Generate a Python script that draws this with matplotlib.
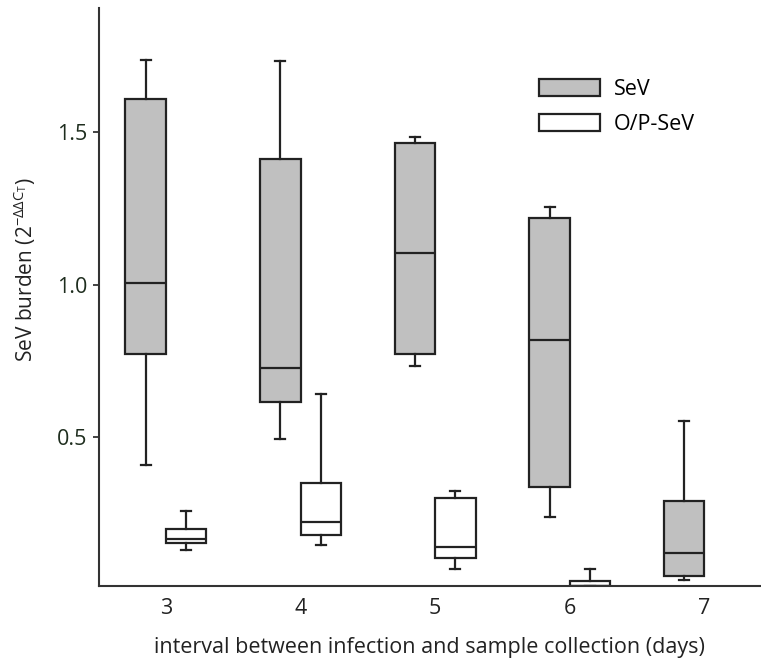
import matplotlib
matplotlib.use('Agg')
import matplotlib.pyplot as plt
from matplotlib.patches import Patch

plt.rcParams['font.family'] = ['Open Sans', 'DejaVu Sans']
plt.rcParams['mathtext.fontset'] = 'custom'
plt.rcParams['mathtext.rm'] = 'Open Sans'
plt.rcParams['mathtext.it'] = 'Open Sans'

# days after infection
days = ['3', '4', '5', '6', '7']

# SeV box stats
sev_whislo = [0.408, 0.494, 0.732, 0.240, 0.032]
sev_q1 = [0.772, 0.615, 0.773, 0.336, 0.045]
sev_med = [1.004, 0.727, 1.102, 0.818, 0.122]
sev_q3 = [1.609, 1.413, 1.463, 1.217, 0.290]
sev_whishi = [1.735, 1.732, 1.484, 1.255, 0.554]

# O/P-SeV box stats (no data on day 7)
op_days = ['3', '4', '5', '6']
op_whislo = [0.131, 0.146, 0.068, 0.013]
op_q1 = [0.153, 0.179, 0.104, 0.014]
op_med = [0.167, 0.224, 0.140, 0.014]
op_q3 = [0.199, 0.349, 0.302, 0.029]
op_whishi = [0.259, 0.642, 0.325, 0.070]

edge = '#222222'
grey = '#c0c0c0'
tick_col = '#1e2d1e'
fs = 15.5


def make_stats(lo, q1, med, q3, hi):
    out = []
    for i in range(len(med)):
        out.append({'whislo': lo[i], 'q1': q1[i], 'med': med[i],
                    'q3': q3[i], 'whishi': hi[i], 'fliers': []})
    return out


fig = plt.figure(figsize=(7.61, 6.62), dpi=100)
ax = fig.add_axes([0.1295, 0.1148, 0.8705, 0.8727])

line_kw = dict(color=edge, linewidth=1.6)
sev_pos = [i - 0.15 for i in range(len(days))]
op_pos = [days.index(d) + 0.15 for d in op_days]

ax.bxp(make_stats(sev_whislo, sev_q1, sev_med, sev_q3, sev_whishi),
       positions=sev_pos, widths=0.3, patch_artist=True, showfliers=False,
       capwidths=0.075,
       boxprops=dict(facecolor=grey, edgecolor=edge, linewidth=1.6),
       medianprops=line_kw, whiskerprops=line_kw, capprops=line_kw)
ax.bxp(make_stats(op_whislo, op_q1, op_med, op_q3, op_whishi),
       positions=op_pos, widths=0.3, patch_artist=True, showfliers=False,
       capwidths=0.075,
       boxprops=dict(facecolor='white', edgecolor=edge, linewidth=1.6),
       medianprops=line_kw, whiskerprops=line_kw, capprops=line_kw)

ax.set_xlim(-0.5, 4.42)
ax.set_ylim(0.013, 1.905)
ax.set_xticks(range(len(days)))
ax.set_xticklabels(days)
ax.set_yticks([0.5, 1.0, 1.5])
ax.set_yticklabels(['0.5', '1.0', '1.5'])
ax.tick_params(axis='x', length=0, labelsize=fs, pad=8.3, labelcolor='#222222')
ax.tick_params(axis='y', length=4, width=1.2, labelsize=fs, pad=4,
               labelcolor=tick_col, color=edge)

for s in ['top', 'right']:
    ax.spines[s].set_visible(False)
for s in ['left', 'bottom']:
    ax.spines[s].set_linewidth(1.5)
    ax.spines[s].set_color('#333333')

ax.set_xlabel('interval between infection and sample collection (days)',
              fontsize=fs, color='#222222', labelpad=13.5)
ax.set_ylabel(r'SeV burden (2$^{\mathregular{-\Delta\Delta C_T}}$)',
              fontsize=fs - 0.5, color='#222222')
ax.yaxis.set_label_coords(-0.091, 0.547)

handles = [Patch(facecolor=grey, edgecolor=edge, linewidth=1.6, label='SeV'),
           Patch(facecolor='white', edgecolor=edge, linewidth=1.6, label='O/P-SeV')]
ax.legend(handles=handles, loc='upper left', bbox_to_anchor=(0.665, 0.878),
          frameon=False, fontsize=fs, handlelength=2.84, handleheight=0.88,
          handletextpad=0.65, labelspacing=0.64, borderpad=0, borderaxespad=0)

fig.savefig('out.png', dpi=100)
